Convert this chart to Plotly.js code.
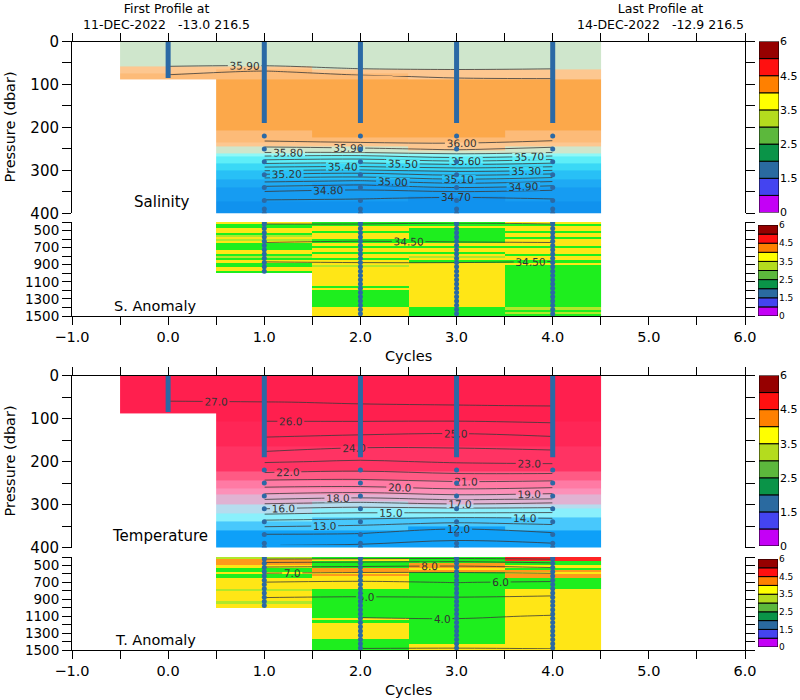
<!DOCTYPE html>
<html><head><meta charset="utf-8">
<script src="https://cdn.plot.ly/plotly-3.0.1.min.js"></script>
<style>html,body{margin:0;padding:0;background:#fff}#chart{width:800px;height:700px}</style>
</head><body><div id="chart"></div>
<script>
// ---------------- data ----------------
const cycles = [0, 1, 2, 3, 4];
const topLevels = [5,20,40,55,62,70,80,95,120,150,180,200,215,230,240,250,258,265,272,280,288,296,305,315,325,335,345,355,365,380,395];

const sal0 = [35.86,35.86,35.86,35.88,35.93,35.97,36.01];
const sal1 = [35.85,35.85,35.86,35.89,35.94,36.01,36.02,36.05,36.07,36.08,36.07,36.05,36.03,36.01,35.95,35.86,35.805,35.72,35.64,35.55,35.45,35.36,35.25,35.13,35.02,34.92,34.83,34.76,34.71,34.67,34.63];
const sal2 = [35.86,35.86,35.86,35.88,35.89,35.95,36.01,36.05,36.07,36.08,36.07,36.05,36.04,36.02,35.98,35.88,35.805,35.71,35.62,35.53,35.44,35.34,35.22,35.105,34.99,34.89,34.805,34.73,34.705,34.66,34.62];
const sal3 = [35.87,35.87,35.87,35.88,35.88,35.93,35.98,36.04,36.06,36.07,36.06,36.05,36.04,36.02,35.99,35.92,35.84,35.76,35.68,35.58,35.48,35.38,35.27,35.16,35.05,34.95,34.85,34.74,34.69,34.65,34.61];
const sal4 = [35.86,35.86,35.87,35.88,35.89,35.94,35.97,36.04,36.06,36.07,36.06,36.05,36.03,36.005,35.95,35.87,35.805,35.72,35.63,35.54,35.44,35.35,35.24,35.12,35.01,34.91,34.81,34.74,34.705,34.66,34.62];

const temp0 = [27.6,27.6,27.4,27.1,26.95,26.8,26.6];
const temp1 = [27.7,27.6,27.5,27.2,26.98,26.85,26.6,26.25,25.7,24.8,23.9,23.1,22.5,21.8,21.2,20.6,20.1,19.7,19.2,18.7,18.02,17.2,16.4,15.6,14.8,14.1,13.4,12.8,12.2,11.5,11.02];
const temp2 = [27.6,27.6,27.4,27.2,27.05,26.95,26.7,26.35,25.6,24.6,23.6,22.9,22.4,21.6,21.1,20.5,20.02,19.5,19.02,18.4,17.7,16.9,16.1,15.3,14.6,13.9,13.2,12.6,12.1,11.5,10.9];
const temp3 = [27.6,27.5,27.4,27.2,27.1,26.98,26.8,26.4,25.5,24.5,23.7,23.1,22.6,21.9,21.4,20.8,20.4,19.9,19.4,18.8,18.1,17.3,16.3,15.4,14.5,13.6,12.8,12.1,11.6,11.1,10.7];
const temp4 = [27.5,27.5,27.4,27.2,27.1,27.02,26.8,26.3,25.8,24.7,23.8,23.2,22.6,21.9,21.3,20.7,20.2,19.7,19.2,18.6,17.9,17.02,16.2,15.3,14.5,13.8,13.1,12.5,12.02,11.4,10.8];

const deepLevels = [410,450,500,550,600,650,700,750,800,850,900,950,1000,1100,1200,1300,1400,1490];
const dsal1 = [34.61,34.58,34.56,34.54,34.52,34.495,34.49,34.49,34.49,34.495,34.51,34.52,34.53];
const dsal2 = [34.61,34.58,34.55,34.53,34.51,34.49,34.48,34.48,34.48,34.49,34.51,34.52,34.53,34.54,34.55,34.55,34.56,34.56];
const dsal3 = [34.602,34.57,34.55,34.53,34.51,34.495,34.49,34.48,34.48,34.49,34.51,34.52,34.53,34.54,34.55,34.56,34.56,34.57];
const dsal4 = [34.61,34.58,34.56,34.54,34.52,34.495,34.49,34.49,34.49,34.497,34.51,34.52,34.53,34.54,34.55,34.56,34.56,34.57];

const dtemp1 = [10.4,9.3,8.3,7.5,6.9,6.4,5.98,5.7,5.4,5.15,4.9,4.7,4.5];
const dtemp2 = [10.3,9.2,8.2,7.4,6.8,6.3,5.9,5.6,5.4,5.1,4.85,4.65,4.45,4.05,3.75,3.45,3.2,2.98];
const dtemp3 = [10.2,9.1,8.1,7.4,6.8,6.4,6.02,5.7,5.4,5.1,4.9,4.7,4.5,4.1,3.75,3.45,3.2,2.97];
const dtemp4 = [10.4,9.4,8.4,7.6,6.9,6.4,5.9,5.6,5.3,5.05,4.8,4.6,4.4,3.95,3.7,3.45,3.2,2.99];

// anomaly classes, 25 dbar rows starting at 400 dbar (0 green,1 yellow-green,2 yellow,3 orange,4 red)
const anomFirstRow = 412.5, anomRowStep = 25;
const sAnom1 = [2,0,0,2,2,0,1,2,1,2,0,0,0,2,2,0,1,0,2,0,0,2,2,0];
const sAnom2 = [0,0,2,2,0,2,2,2,0,0,2,0,2,2,0,2,2,0,2,2,1,2,2,2,2,2,2,2,2,2,0,2,0,0,0,0,0,0,0,0,2,2,2,2];
const sAnom3 = [0,0,2,0,0,0,0,0,0,0,2,0,2,2,0,2,1,2,0,2,2,2,2,2,2,2,2,2,2,2,2,2,2,2,2,2,2,2,2,2,0,0,0,0];
const sAnom4 = [2,0,2,2,0,2,2,0,2,2,2,0,2,2,2,0,2,2,0,2,0,0,0,0,0,0,0,0,0,0,0,0,0,0,0,0,0,0,0,0,1,0,1,0];
const tAnom1 = [1,3,3,3,2,0,0,2,0,0,2,2,2,2,2,1,2,2,2,2,2,1,2,2];
const tAnom2 = [0,2,0,0,0,3,3,2,3,2,2,2,2,2,2,0,0,0,0,0,0,0,0,0,0,0,0,0,0,2,0,2,2,2,2,2,2,2,2,0,0,0,0,0];
const tAnom3 = [0,0,0,3,3,2,3,0,0,0,0,0,0,0,0,0,0,0,0,0,0,0,0,0,0,0,0,0,0,0,0,0,0,0,0,0,0,0,0,0,0,2,2,2];
const tAnom4 = [4,4,0,0,2,0,3,2,3,3,0,0,0,0,0,2,2,2,2,2,2,2,2,2,2,2,2,2,2,2,2,2,2,2,2,2,2,2,2,2,2,2,2,2];

// profile sampling
const maxDepth = [85,1000,1500,1500,1500];
const denseEnd = [85,190,190,190,190];
const dotPres = [220,250,280,310,340,370,390,400,425,475,525,575,625,675,725,775,825,875,925,975,1025,1075,1125,1175,1225,1275,1325,1375,1425,1475];

// ticks
const xTickVals = [-1,-0.5,0,0.5,1,1.5,2,2.5,3,3.5,4,4.5,5,5.5,6];
const xTickText = ['\u22121.0','','0.0','','1.0','','2.0','','3.0','','4.0','','5.0','','6.0'];
const topTickVals = [0,50,100,150,200,250,300,350,400];
const topTickText = ['0','','100','','200','','300','','400'];
const deepTickVals = [400,500,600,700,800,900,1000,1100,1200,1300,1400,1500];
const deepTickText = ['','500','','700','','900','','1100','','1300','','1500'];

// colour key
const cbLevels = [0,1,1.5,2,2.5,3,3.5,4,4.5,5,6];
const cbLabels = ['0','1.5','2.5','3.5','4.5','6'];
const cbColors = ['#c400f6','#4444f0','#2a6aa0','#0a9448','#5cb83c','#b4dc1e','#ffff00','#ff8000','#ff1010','#960000'];

// field colour bands
const salBounds = [34.0,34.7,34.9,35.1,35.3,35.5,35.7,35.8,35.9,36.0,36.035,36.6];
const salColors = ['#1092ee','#169cf2','#1eaaf4','#28c0f6','#3ad8f6','#5eeef8','#8ef8f8','#cfe6cc','#fdc790','#fdbb78','#fca84a'];
const tempBounds = [0,12.5,14,15.5,17,19,20,21,22,24,26,30];
const tempColors = ['#0ea0f8','#48c8fc','#8af0fc','#b6dcee','#e0b2d2','#fc90b8','#ff7aa4','#ff5a84','#ff3363','#ff2656','#ff1f4e'];
const anomBounds = [-0.5,0.5,1.5,2.5,3.5,4.5];
const anomColors = ['#1eee1e','#b0e82a','#ffe616','#ff9a1a','#ff2424'];

// ---------------- helpers ----------------
function colMatrix(n, cols, offset) {
  offset = offset || 0;
  const z = [];
  for (let i = 0; i < n; i++) {
    z.push(cols.map(a => (a && (i + offset) < a.length) ? a[i + offset] : null));
  }
  return z;
}
function discrete(bounds, colors) {
  const lo = bounds[0], hi = bounds[bounds.length - 1], cs = [];
  for (let i = 0; i < colors.length; i++) {
    cs.push([(bounds[i] - lo) / (hi - lo), colors[i]]);
    cs.push([(bounds[i + 1] - lo) / (hi - lo), colors[i]]);
  }
  return cs;
}
const lineCol = '#3a3a3a';
function contour(x, y, z, xa, ya, start, end, size, fmt) {
  return {type:'contour', x:x, y:y, z:z, xaxis:xa, yaxis:ya, showscale:false, hoverinfo:'skip',
    autocontour:false, connectgaps:false,
    contours:{coloring:'none', start:start, end:end, size:size, showlabels:true,
      labelfont:{size:10.5, color:'#333', family:'DejaVu Sans'}, labelformat:fmt},
    line:{color:lineCol, width:0.8}};
}
function heat(z, xa, ya, bounds, colors, yopts) {
  return Object.assign({type:'heatmap', x:cycles, z:z, xaxis:xa, yaxis:ya, showscale:false, hoverinfo:'skip',
    zsmooth:false, zmin:bounds[0], zmax:bounds[bounds.length-1], colorscale:discrete(bounds, colors)}, yopts);
}
const profColor = '#2b69a5';
function profLines(xa, ya) {
  const x = [], y = [];
  cycles.forEach((c, i) => { x.push(c, c, null); y.push(0, denseEnd[i], null); });
  return {type:'scatter', mode:'lines', x:x, y:y, xaxis:xa, yaxis:ya, hoverinfo:'skip',
    line:{color:profColor, width:5}};
}
function profDots(xa, ya) {
  const x = [], y = [];
  cycles.forEach((c, i) => { dotPres.forEach(p => { if (p <= maxDepth[i]) { x.push(c); y.push(p); } }); });
  return {type:'scatter', mode:'markers', x:x, y:y, xaxis:xa, yaxis:ya, hoverinfo:'skip',
    marker:{color:profColor, size:5}};
}
function keyBar(xa, ya) {
  const n = cbLevels.length - 1;
  const base = [], h = [], xs = [];
  for (let i = 0; i < n; i++) { base.push(i); h.push(1); xs.push(0); }
  return {type:'bar', x:xs, y:h, base:base, width:1, xaxis:xa, yaxis:ya, hoverinfo:'skip', cliponaxis:false,
    marker:{color:cbColors, line:{color:'#000', width:1}}};
}

// ---------------- traces ----------------
const data = [];
const salCols = [sal0, sal1, sal2, sal3, sal4];
const tempCols = [temp0, temp1, temp2, temp3, temp4];
const nTop = topLevels.length;
const nShallow = sal0.length;

// Salinity panel
data.push(heat(colMatrix(nTop, salCols), 'x', 'y', salBounds, salColors, {y:topLevels}));
data.push(contour(cycles, topLevels.slice(0, nShallow), colMatrix(nShallow, salCols), 'x', 'y', 34.0, 36.5, 0.1, '.2f'));
data.push(contour(cycles.slice(1), topLevels.slice(nShallow-1), colMatrix(nTop-nShallow+1, salCols.slice(1), nShallow-1), 'x', 'y', 34.0, 36.5, 0.1, '.2f'));
data.push(profLines('x', 'y'));
data.push(profDots('x', 'y'));

// Salinity anomaly panel
const nAnom = sAnom2.length;
data.push(heat(colMatrix(nAnom, [null, sAnom1, sAnom2, sAnom3, sAnom4]), 'x2', 'y2', anomBounds, anomColors, {y0:anomFirstRow, dy:anomRowStep}));
const nD1 = dsal1.length;
data.push(contour(cycles.slice(1), deepLevels.slice(0, nD1), colMatrix(nD1, [dsal1,dsal2,dsal3,dsal4]), 'x2', 'y2', 34.0, 36.5, 0.1, '.2f'));
data.push(contour(cycles.slice(2), deepLevels.slice(nD1-1), colMatrix(deepLevels.length-nD1+1, [dsal2,dsal3,dsal4], nD1-1), 'x2', 'y2', 34.0, 36.5, 0.1, '.2f'));
data.push(profDots('x2', 'y2'));

// Temperature panel
data.push(heat(colMatrix(nTop, tempCols), 'x3', 'y3', tempBounds, tempColors, {y:topLevels}));
data.push(contour(cycles, topLevels.slice(0, nShallow), colMatrix(nShallow, tempCols), 'x3', 'y3', 0, 30, 1, '.1f'));
data.push(contour(cycles.slice(1), topLevels.slice(nShallow-1), colMatrix(nTop-nShallow+1, tempCols.slice(1), nShallow-1), 'x3', 'y3', 0, 30, 1, '.1f'));
data.push(profLines('x3', 'y3'));
data.push(profDots('x3', 'y3'));

// Temperature anomaly panel
data.push(heat(colMatrix(nAnom, [null, tAnom1, tAnom2, tAnom3, tAnom4]), 'x4', 'y4', anomBounds, anomColors, {y0:anomFirstRow, dy:anomRowStep}));
data.push(contour(cycles.slice(1), deepLevels.slice(0, nD1), colMatrix(nD1, [dtemp1,dtemp2,dtemp3,dtemp4]), 'x4', 'y4', 0, 30, 1, '.1f'));
data.push(contour(cycles.slice(2), deepLevels.slice(nD1-1), colMatrix(deepLevels.length-nD1+1, [dtemp2,dtemp3,dtemp4], nD1-1), 'x4', 'y4', 0, 30, 1, '.1f'));
data.push(profDots('x4', 'y4'));

// colour keys
data.push(keyBar('x5', 'y5'));
data.push(keyBar('x6', 'y6'));
data.push(keyBar('x7', 'y7'));
data.push(keyBar('x8', 'y8'));

// ---------------- layout ----------------
const H = 700, W = 800;
const py = p => 1 - p / H, px = p => p / W;
const xDom = [px(72), px(745)];
const dom = {sal:[py(213.3), py(41.5)], sa:[py(316), py(222)], tem:[py(547.5), py(375.5)], ta:[py(650), py(557)]};

const xBase = {range:[-1, 6], domain:xDom, showgrid:false, zeroline:false, showline:true, linecolor:'#000', linewidth:1,
  ticks:'outside', ticklen:8, tickcolor:'#000', tickwidth:1, tickmode:'array', tickvals:xTickVals, ticktext:xTickText,
  tickfont:{size:14.5, color:'#000'}, fixedrange:true};
const yCommon = {showgrid:false, zeroline:false, showline:true, mirror:'ticks', linecolor:'#000', linewidth:1,
  ticks:'outside', ticklen:9, tickcolor:'#000', tickwidth:1, tickmode:'array', fixedrange:true};
const yTop = Object.assign({}, yCommon, {range:[400, 0], tickvals:topTickVals, ticktext:topTickText, tickfont:{size:15, color:'#000'}});
const yDeep = Object.assign({}, yCommon, {range:[1500, 400], tickvals:deepTickVals, ticktext:deepTickText, tickfont:{size:13.5, color:'#000'}});

function keyX(d) { return {domain:d, range:[-0.5, 0.5], visible:false, fixedrange:true}; }
function keyY(d, anchor, fs) {
  const tv = cbLabels.map(l => cbLevels.indexOf(parseFloat(l)));
  return {domain:d, anchor:anchor, side:'right', range:[0, cbLevels.length-1], showgrid:false, zeroline:false,
    showline:false, ticks:'', tickmode:'array', tickvals:tv, ticktext:cbLabels, tickfont:{size:fs, color:'#000'}, fixedrange:true};
}

const ann = (text, x, y, opts) => Object.assign({text:text, x:x, y:y, xref:'paper', yref:'paper', showarrow:false,
  xanchor:'center', yanchor:'middle', font:{size:13.5, color:'#000'}}, opts || {});
const nb = '\u00a0\u00a0\u00a0';
const headFont = {size:12.5, color:'#000'};
const annotations = [
  ann('First Profile at<br>11-DEC-2022' + nb + '-13.0 216.5', px(166.5), 1, {yanchor:'top', borderpad:0, font:headFont}),
  ann('Last Profile at<br>14-DEC-2022' + nb + '-12.9 216.5', px(660), 1, {yanchor:'top', borderpad:0, font:headFont}),
  ann('Salinity', px(131.5), py(202), {xanchor:'left', font:{size:15, color:'#000'}}),
  ann('S. Anomaly', px(111.5), py(306), {xanchor:'left', font:{size:14.5, color:'#000'}}),
  ann('Temperature', px(110), py(536), {xanchor:'left', font:{size:15, color:'#000'}}),
  ann('T. Anomaly', px(112.5), py(640), {xanchor:'left', font:{size:14.5, color:'#000'}}),
  ann('Pressure (dbar)', px(9), py(127.5), {textangle:-90, font:{size:14.5, color:'#000'}}),
  ann('Pressure (dbar)', px(9), py(461.5), {textangle:-90, font:{size:14.5, color:'#000'}}),
  ann('Cycles', px(408.5), py(356), {font:{size:14.5, color:'#000'}}),
  ann('Cycles', px(408.5), py(690), {font:{size:14.5, color:'#000'}})
];

const layout = {
  width:W, height:H, margin:{l:0, r:0, t:0, b:0, pad:0}, paper_bgcolor:'#fff', plot_bgcolor:'rgba(0,0,0,0)',
  showlegend:false, barmode:'overlay', hovermode:false,
  font:{family:'DejaVu Sans, sans-serif', color:'#000'},
  xaxis:Object.assign({}, xBase, {anchor:'y', side:'top', showticklabels:false}),
  xaxis2:Object.assign({}, xBase, {anchor:'y2', side:'bottom'}),
  xaxis3:Object.assign({}, xBase, {anchor:'y3', side:'top', showticklabels:false}),
  xaxis4:Object.assign({}, xBase, {anchor:'y4', side:'bottom'}),
  yaxis:Object.assign({}, yTop, {domain:dom.sal, anchor:'x'}),
  yaxis2:Object.assign({}, yDeep, {domain:dom.sa, anchor:'x2'}),
  yaxis3:Object.assign({}, yTop, {domain:dom.tem, anchor:'x3'}),
  yaxis4:Object.assign({}, yDeep, {domain:dom.ta, anchor:'x4'}),
  xaxis5:keyX([px(759), px(779)]), yaxis5:keyY([py(212.5), py(41.5)], 'x5', 11),
  xaxis6:keyX([px(758), px(778)]), yaxis6:keyY([py(316), py(225)], 'x6', 9),
  xaxis7:keyX([px(759), px(779)]), yaxis7:keyY([py(546), py(375.5)], 'x7', 11),
  xaxis8:keyX([px(758), px(778)]), yaxis8:keyY([py(647), py(559)], 'x8', 9),
  annotations:annotations
};

Plotly.newPlot('chart', data, layout, {staticPlot:true, displayModeBar:false});
</script>
</body></html>
